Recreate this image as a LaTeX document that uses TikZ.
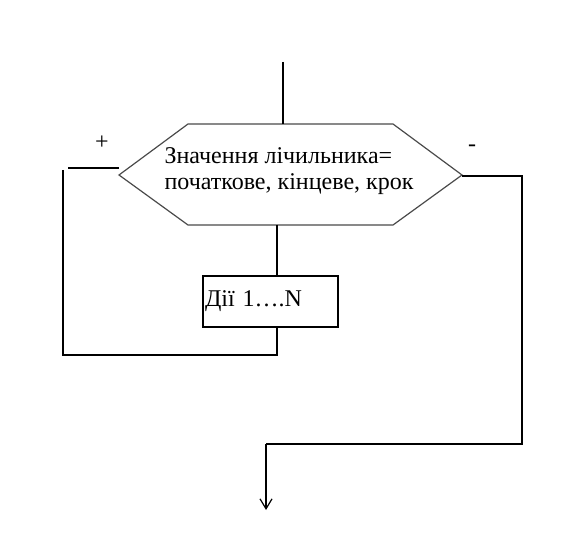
\documentclass[tikz,border=0pt]{standalone}
\usepackage{fontspec}
\setmainfont{Liberation Serif}
\newfontfamily\loopfont{Liberation Serif}
\usetikzlibrary{arrows.meta,positioning}
\definecolor{loopInk}{HTML}{000000}
\definecolor{loopEdge}{HTML}{4A4A4A}
\tikzset{
  every picture/.style={font=\loopfont\fontsize{12}{13}\selectfont, text=loopInk},
  loop hex/.style={draw=loopEdge, line width=0.6pt, line join=miter},
  loop text/.style={align=left, inner sep=0pt},
  loop box/.style={draw=loopInk, line width=0.6pt, minimum width=67.5pt,
    minimum height=25.5pt, text width=65.5pt, inner xsep=1pt, align=left},
  loop flow/.style={draw=loopInk, line width=0.6pt},
  loop arrow/.style={-{Straight Barb[length=5pt,width=6pt]},
    draw=loopInk, line width=0.6pt}
}

\begin{document}
\begin{tikzpicture}[x=0.5pt,y=-0.5pt]
  \useasboundingbox (0,0) rectangle (576,549);
  % counter hexagon
  \coordinate (condL) at (119,175);
  \coordinate (condR) at (462,175);
  \draw[loop hex] (condL) -- (188,124) -- (393,124) -- (condR)
    -- (393,225) -- (188,225) -- cycle;
  \node[loop text] (cond) at (289,171) {Значення лічильника=\\початкове, кінцеве, крок};
  % loop body
  \node[loop box] (act) at (270.5,301.5) {Дії 1….N};
  \coordinate (entry) at (283,62);
  \coordinate (bodyX) at (277,225);
  \coordinate (plusEnd) at (68,168);
  \coordinate (loopTop) at (63,170);
  \coordinate (loopBot) at (63,355);
  \coordinate (exitX) at (522,176);
  \coordinate (exitBot) at (522,444);
  \coordinate (outX) at (266,444);
  \coordinate (outEnd) at (266,510);
  \draw[loop flow] (entry) -- (entry |- 0,124);
  \draw[loop flow] (bodyX) -- (bodyX |- act.north);
  \draw[loop flow] (119,168) -- (plusEnd);
  \draw[loop flow] (loopTop) -- (loopBot) -| (bodyX |- act.south);
  \draw[loop flow] (condR |- exitX) -- (exitX) -- (exitBot) -- (outX);
  \draw[loop arrow] (outX) -- (outEnd);
  \node (plus) at (102,143) {+};
  \node (minus) at (472,148) {-};
\end{tikzpicture}
\end{document}
